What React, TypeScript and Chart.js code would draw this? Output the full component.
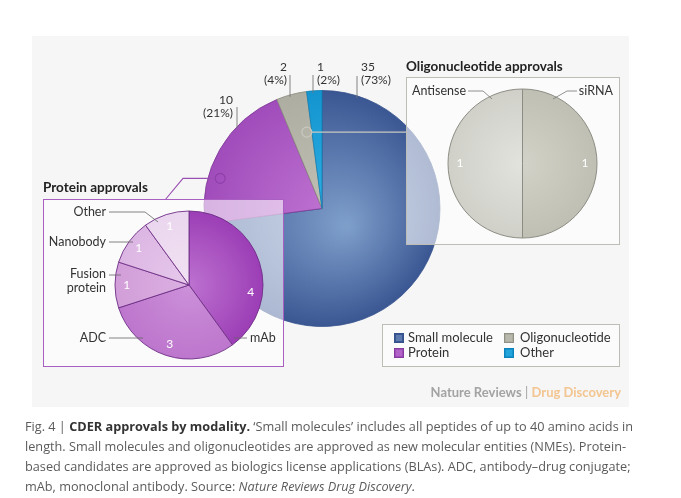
import React, { useEffect, useRef } from 'react';
import { Chart, registerables } from 'chart.js';
Chart.register(...registerables);

const W = 681;
const H = 498;

// ---- data ----
const modalityLabels = ['Small molecule', 'Protein', 'Oligonucleotide', 'Other'];
const modalityCounts = [35, 10, 2, 1];

const proteinLabels = ['mAb', 'ADC', 'Fusion protein', 'Nanobody', 'Other'];
const proteinCounts = [4, 3, 1, 1, 1];

const oligoLabels = ['siRNA', 'Antisense'];
const oligoCounts = [1, 1];

const captionLines: [string, string][][] = [
  [['Fig. 4 | ', 'n'], ['CDER approvals by modality.', 'b'], [' \u2018Small molecules\u2019 includes all peptides of up to 40 amino acids in', 'n']],
  [['length. Small molecules and oligonucleotides are approved as new molecular entities (NMEs). Protein-', 'n']],
  [['based candidates are approved as biologics license applications (BLAs). ADC, antibody\u2013drug conjugate;', 'n']],
  [['mAb, monoclonal antibody. Source: ', 'n'], ['Nature Reviews Drug Discovery', 'i'], ['.', 'n']],
];

// ---- styles ----
const FONT = 'Lato, "Open Sans", sans-serif';
const mainInner = ['#7f9fcb', '#c47ad5', '#c4c3b8', '#34b4e6'];
const mainOuter = ['#3b5793', '#a04cbb', '#aeada1', '#1394cf'];
const mainBorder = ['#33508a', '#7e3896', '#8a897e', '#0f7fb4'];
const protInner = ['#bd72d0', '#cc90d9', '#dbb0e2', '#e6c8eb', '#f2e2f4'];
const protOuter = ['#9c3eb6', '#bd76cd', '#d29ed9', '#dcb6e3', '#ead6ee'];
const oligoInner = ['#d2d2c8', '#e3e3de'];
const oligoOuter = ['#bfbfb3', '#d0d0c9'];

const grad = (inner: string[], outer: string[], dx = 0, dy = 0) => (ctx: any) => {
  const chart = ctx.chart;
  const a = chart.chartArea;
  const i = ctx.dataIndex ?? 0;
  if (!a) return outer[i];
  const cx = (a.left + a.right) / 2;
  const cy = (a.top + a.bottom) / 2;
  const r = chart.options.radius as number;
  const g = chart.ctx.createRadialGradient(cx + dx, cy + dy, 0, cx, cy, r);
  g.addColorStop(0, inner[i]);
  g.addColorStop(1, outer[i]);
  return g;
};

function txt(c: CanvasRenderingContext2D, s: string, x: number, y: number, font: string, color: string, align: CanvasTextAlign = 'left') {
  c.font = font;
  c.fillStyle = color;
  c.textAlign = align;
  c.textBaseline = 'middle';
  c.fillText(s, x, y);
}

function line(c: CanvasRenderingContext2D, pts: number[][], color: string, w = 0.8) {
  c.beginPath();
  c.moveTo(pts[0][0], pts[0][1]);
  for (let k = 1; k < pts.length; k++) c.lineTo(pts[k][0], pts[k][1]);
  c.strokeStyle = color;
  c.lineWidth = w;
  c.stroke();
}

function arcPoint(arc: any, frac: number, dist: number) {
  const a = arc.startAngle + (arc.endAngle - arc.startAngle) * frac;
  return [arc.x + Math.cos(a) * arc.outerRadius * dist, arc.y + Math.sin(a) * arc.outerRadius * dist];
}

const mainPlugin = {
  id: 'mainDeco',
  beforeDraw(chart: any) {
    const c = chart.ctx as CanvasRenderingContext2D;
    c.save();
    c.fillStyle = '#ffffff';
    c.fillRect(0, 0, W, H);
    c.fillStyle = '#f6f6f6';
    c.fillRect(32, 36, 597, 371);
    c.restore();
  },
  afterDatasetsDraw(chart: any) {
    const c = chart.ctx as CanvasRenderingContext2D;
    const arcs = chart.getDatasetMeta(0).data;
    const total = modalityCounts.reduce((s, v) => s + v, 0);
    const cx = arcs[0].x, cy = arcs[0].y, R = arcs[0].outerRadius;
    const edgeY = (x: number) => cy - Math.sqrt(R * R - (x - cx) * (x - cx)) + 2;
    c.save();
    // value labels with leader lines
    const lab = [
      { x: 361, y: 67, align: 'left', lx: 357, ly: 76 },
      { x: 233, y: 100, align: 'right', lx: 237, ly: 107 },
      { x: 287, y: 67, align: 'right', lx: 290, ly: 75 },
      { x: 317, y: 67, align: 'left', lx: 313, ly: 75 },
    ];
    modalityCounts.forEach((v, i) => {
      const L = lab[i];
      const pct = Math.round((v / total) * 100);
      txt(c, String(v), L.x, L.y, `12px ${FONT}`, '#333333', L.align as CanvasTextAlign);
      txt(c, `(${pct}%)`, L.x, L.y + 13, `12px ${FONT}`, '#333333', L.align as CanvasTextAlign);
      line(c, [[L.lx, L.ly], [L.lx, edgeY(L.lx)]], '#777777', 0.9);
    });

    // oligonucleotide callout (circle in grey slice -> box)
    const og = arcPoint(arcs[2], 0.75, 0.66);
    line(c, [[og[0] + 5, og[1]], [406, og[1]]], '#c9c9c1', 1.2);
    c.beginPath();
    c.arc(og[0], og[1], 5, 0, Math.PI * 2);
    c.strokeStyle = '#c9c9c1';
    c.lineWidth = 1.2;
    c.stroke();

    // protein callout
    const pp = arcPoint(arcs[1], 0.32, 0.9);
    c.beginPath();
    c.arc(pp[0], pp[1], 5, 0, Math.PI * 2);
    c.strokeStyle = '#8e3fa8';
    c.lineWidth = 1.1;
    c.stroke();
    line(c, [[pp[0] - 5, pp[1]], [183, pp[1]], [165, 200]], '#9a4fb2', 1.1);

    // inset boxes
    c.fillStyle = 'rgba(255,255,255,0.58)';
    c.fillRect(43.5, 199.5, 240, 167);
    c.strokeStyle = '#a95ec2';
    c.lineWidth = 1;
    c.strokeRect(43.5, 199.5, 240, 167);

    c.fillStyle = 'rgba(255,255,255,0.6)';
    c.fillRect(406.5, 77.5, 213, 167);
    c.strokeStyle = '#bdbdb5';
    c.strokeRect(406.5, 77.5, 213, 167);

    txt(c, 'Protein approvals', 43, 188, `bold 13.5px ${FONT}`, '#222222');
    txt(c, 'Oligonucleotide approvals', 406, 67, `bold 13.5px ${FONT}`, '#222222');

    // legend
    c.fillStyle = 'rgba(255,255,255,0.5)';
    c.fillRect(382.5, 324.5, 237, 42);
    c.strokeStyle = '#bdbdb5';
    c.strokeRect(382.5, 324.5, 237, 42);
    const lpos = [
      [394, 338, 408],
      [394, 353, 408],
      [504, 338, 520],
      [504, 353, 520],
    ];
    modalityLabels.forEach((name, i) => {
      const [sx, sy, tx] = lpos[i];
      c.fillStyle = mainOuter[i];
      c.fillRect(sx, sy - 5, 10, 10);
      c.fillStyle = mainInner[i];
      c.globalAlpha = 0.5;
      c.fillRect(sx + 2, sy - 3, 6, 6);
      c.globalAlpha = 1;
      c.strokeStyle = mainBorder[i];
      c.lineWidth = 0.8;
      c.strokeRect(sx + 0.5, sy - 4.5, 9, 9);
      txt(c, name, tx, sy, `13px ${FONT}`, '#333333');
    });

    // brand line
    const BF = 13;
    c.font = `bold ${BF}px ${FONT}`;
    const p2 = 'Drug Discovery';
    const w2 = c.measureText(p2).width;
    txt(c, p2, 621, 393, `bold ${BF}px ${FONT}`, '#f3c590', 'right');
    c.font = `${BF}px ${FONT}`;
    const wbar = c.measureText(' | ').width;
    txt(c, ' | ', 621 - w2, 393, `${BF}px ${FONT}`, '#a3a3a3', 'right');
    txt(c, 'Nature Reviews', 621 - w2 - wbar, 393, `bold ${BF}px ${FONT}`, '#a3a3a3', 'right');

    // caption
    const CF = '"Open Sans", sans-serif';
    const fontOf = (k: string) => (k === 'b' ? `bold 12.5px ${CF}` : k === 'i' ? `italic 12.5px ${CF}` : `12.5px ${CF}`);
    const widthOf = (segs: [string, string][]) =>
      segs.reduce((s, [t, k]) => {
        c.font = fontOf(k);
        return s + c.measureText(t).width;
      }, 0);
    const sx = (633 - 25) / widthOf(captionLines[0]);
    const ys = [427, 447, 467, 487];
    captionLines.forEach((segs, li) => {
      c.save();
      c.translate(25, ys[li]);
      c.scale(sx, 1);
      let x = 0;
      segs.forEach(([t, k]) => {
        txt(c, t, x, 0, fontOf(k), k === 'b' ? '#333333' : '#5b5b5b');
        x += c.measureText(t).width;
      });
      c.restore();
    });
    c.restore();
  },
};

const proteinPlugin = {
  id: 'protDeco',
  afterDatasetsDraw(chart: any) {
    const c = chart.ctx as CanvasRenderingContext2D;
    const arcs = chart.getDatasetMeta(0).data;
    c.save();
    const fr = [0.67, 0.5, 0.5, 0.5, 0.5];
    proteinCounts.forEach((v, i) => {
      const p = arcPoint(arcs[i], fr[i], 0.84);
      txt(c, String(v), p[0], p[1], `12px ${FONT}`, '#ffffff', 'center');
    });
    const F = `12.5px ${FONT}`;
    const col = '#333333';
    const lc = '#666666';
    txt(c, 'Other', 106, 212, F, col, 'right');
    line(c, [[109, 212], [145, 212], [158, 222]], lc);
    txt(c, 'Nanobody', 106, 242, F, col, 'right');
    line(c, [[109, 242], [133, 242]], lc);
    txt(c, 'Fusion', 106, 274, F, col, 'right');
    txt(c, 'protein', 106, 288, F, col, 'right');
    line(c, [[109, 275], [121, 275]], lc);
    txt(c, 'ADC', 106, 338, F, col, 'right');
    line(c, [[109, 338], [143, 338]], lc);
    line(c, [[234, 338], [247, 338]], lc);
    txt(c, 'mAb', 250, 338, F, col, 'left');
    c.restore();
  },
};

const oligoPlugin = {
  id: 'oligoDeco',
  afterDatasetsDraw(chart: any) {
    const c = chart.ctx as CanvasRenderingContext2D;
    const arcs = chart.getDatasetMeta(0).data;
    c.save();
    oligoCounts.forEach((v, i) => {
      const p = arcPoint(arcs[i], 0.5, 0.84);
      txt(c, String(v), p[0], p[1], `12px ${FONT}`, '#ffffff', 'center');
    });
    const F = `12.5px ${FONT}`;
    txt(c, 'Antisense', 412, 91, F, '#333333', 'left');
    line(c, [[468, 91], [483, 91], [492, 99]], '#777777');
    txt(c, 'siRNA', 613, 91, F, '#333333', 'right');
    line(c, [[577, 91], [567, 91], [553, 99]], '#777777');
    c.restore();
  },
};

function makePie(canvas: HTMLCanvasElement, labels: string[], data: number[], inner: string[], outer: string[], border: string | string[], bw: number, radius: number, padding: any, plugin: any, gdx: number, gdy: number) {
  return new Chart(canvas, {
    type: 'pie',
    data: {
      labels,
      datasets: [
        {
          data,
          backgroundColor: grad(inner, outer, gdx, gdy) as any,
          borderColor: border as any,
          borderWidth: bw,
          hoverOffset: 0,
        },
      ],
    },
    options: {
      animation: false,
      responsive: false,
      maintainAspectRatio: false,
      radius,
      layout: { padding },
      events: [],
      plugins: { legend: { display: false }, tooltip: { enabled: false }, title: { display: false } },
    } as any,
    plugins: [plugin],
  });
}

export default function App() {
  const r1 = useRef<HTMLCanvasElement>(null);
  const r2 = useRef<HTMLCanvasElement>(null);
  const r3 = useRef<HTMLCanvasElement>(null);
  useEffect(() => {
    const charts = [
      makePie(r1.current!, modalityLabels, modalityCounts, mainInner, mainOuter, mainBorder, 0.8, 118,
        { left: 0, right: 37, top: 0, bottom: 81 }, mainPlugin, 25, 18),
      makePie(r2.current!, proteinLabels, proteinCounts, protInner, protOuter, '#6e2f86', 0.9, 74,
        { left: 0, right: 303, top: 72, bottom: 0 }, proteinPlugin, 0, 0),
      makePie(r3.current!, oligoLabels, oligoCounts, oligoInner, oligoOuter, '#8c8c84', 1, 74.5,
        { left: 364, right: 0, top: 0, bottom: 171 }, oligoPlugin, 0, 0),
    ];
    return () => charts.forEach((ch) => ch.destroy());
  }, []);
  const cs: React.CSSProperties = { position: 'absolute', left: 0, top: 0, width: W, height: H, pointerEvents: 'none' };
  return (
    <div style={{ position: 'fixed', left: 0, top: 0, width: W, height: H, background: '#ffffff' }}>
      <canvas ref={r1} width={W} height={H} style={cs} />
      <canvas ref={r2} width={W} height={H} style={cs} />
      <canvas ref={r3} width={W} height={H} style={cs} />
    </div>
  );
}
